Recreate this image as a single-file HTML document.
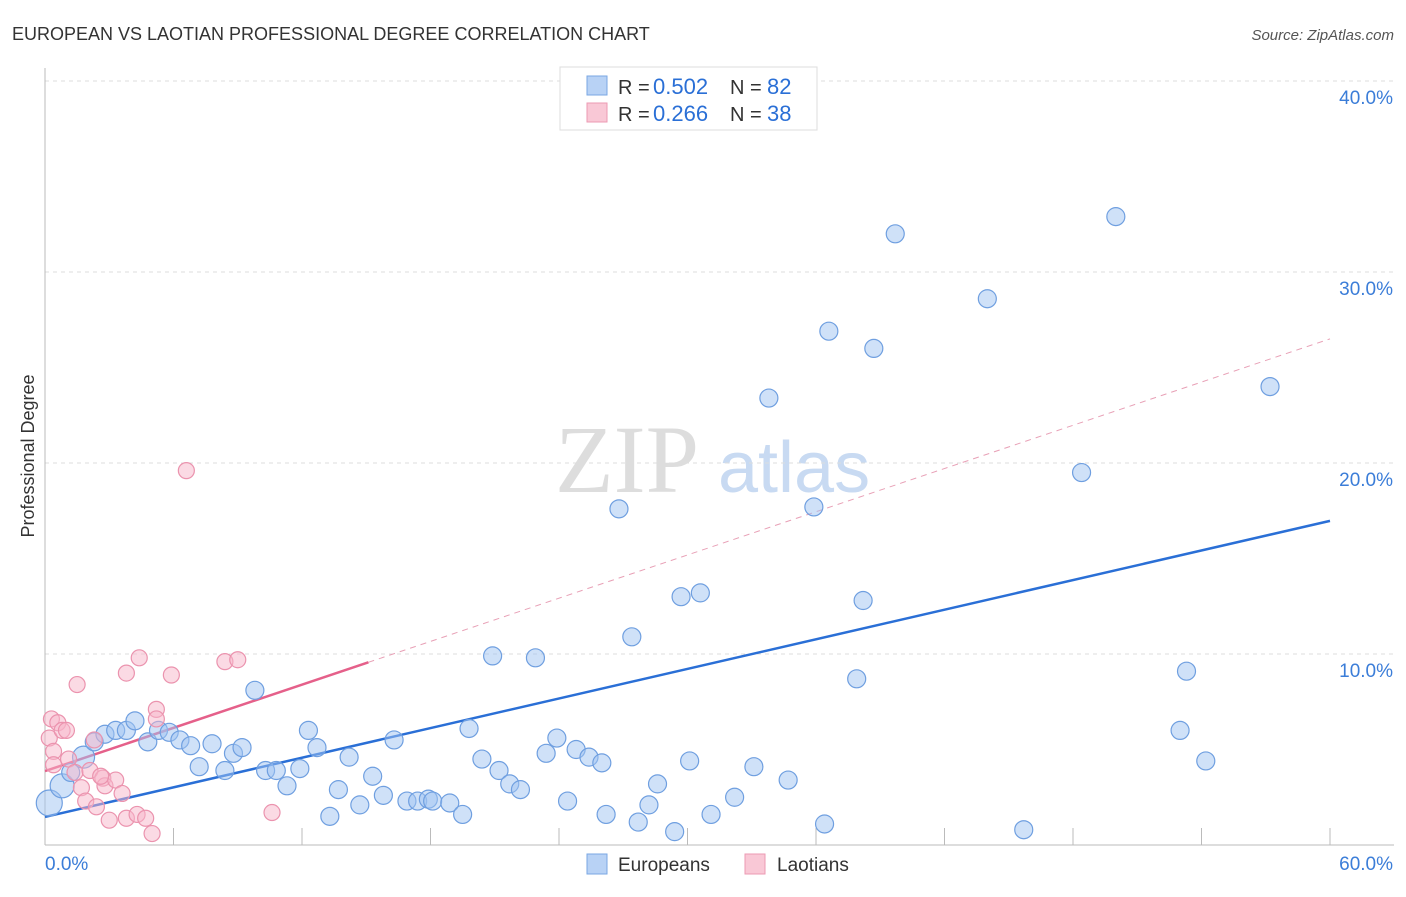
<!DOCTYPE html>
<html><head><meta charset="utf-8"><style>
body{margin:0;background:#fff;font-family:"Liberation Sans",sans-serif;}
</style></head><body>
<svg width="1406" height="892" xmlns="http://www.w3.org/2000/svg">
<text x="12" y="40" font-size="18" fill="#333">EUROPEAN VS LAOTIAN PROFESSIONAL DEGREE CORRELATION CHART</text>
<text x="1394" y="40" font-size="15" fill="#555" font-style="italic" text-anchor="end">Source: ZipAtlas.com</text>
<text x="34" y="456" font-size="18" fill="#333" transform="rotate(-90 34 456)" text-anchor="middle">Professional Degree</text>
<text x="555" y="492" font-size="96" fill="#ddd" font-family="Liberation Serif">ZIP</text>
<text x="718" y="492" font-size="72" fill="#c8daf2">atlas</text>
<g id="grid"></g><g id="axes"></g><g id="lines"></g><g id="pts"></g>
<g>
<rect x="560" y="67" width="257" height="63" fill="#fff" stroke="#ddd"/>
<rect x="587" y="76" width="20" height="19" fill="#b8d2f5" stroke="#7aa7e3"/>
<text x="618" y="94" font-size="20" fill="#333">R =</text>
<text x="653" y="94" font-size="22" fill="#2a6fd6">0.502</text>
<text x="730" y="94" font-size="20" fill="#333">N =</text>
<text x="767" y="94" font-size="22" fill="#2a6fd6">82</text>
<rect x="587" y="103" width="20" height="19" fill="#f9c8d6" stroke="#ec9ab3"/>
<text x="618" y="121" font-size="20" fill="#333">R =</text>
<text x="653" y="121" font-size="22" fill="#2a6fd6">0.266</text>
<text x="730" y="121" font-size="20" fill="#333">N =</text>
<text x="767" y="121" font-size="22" fill="#2a6fd6">38</text>
</g>
<g>
<rect x="587" y="854" width="20" height="20" fill="#b8d2f5" stroke="#7aa7e3"/>
<text x="618" y="871" font-size="19" fill="#333">Europeans</text>
<rect x="745" y="854" width="20" height="20" fill="#f9c8d6" stroke="#ec9ab3"/>
<text x="777" y="871" font-size="19" fill="#333">Laotians</text>
</g>
</svg>
<script>
const xTicks=[0,60];
const yTicks=[10,20,30,40];
const euroX=[0.2,0.8,1.2,1.8,2.3,2.8,3.3,3.8,4.2,4.8,5.3,5.8,6.3,6.8,7.2,7.8,8.4,8.8,9.2,9.8,10.3,10.8,11.3,11.9,12.3,12.7,13.3,13.7,14.2,14.7,15.3,15.8,16.3,16.9,17.4,17.9,18.1,18.9,19.5,19.8,20.4,20.9,21.2,21.7,22.2,22.9,23.4,23.9,24.4,24.8,25.4,26.0,26.2,26.8,27.4,27.7,28.2,28.6,29.4,29.7,30.1,30.6,31.1,32.2,33.1,33.8,34.7,35.9,36.4,36.6,37.9,38.2,38.7,39.7,44.0,45.7,48.4,50.0,53.0,53.3,54.2,57.2];
const euroY=[2.2,3.1,3.8,4.6,5.4,5.8,6.0,6.0,6.5,5.4,6.0,5.9,5.5,5.2,4.1,5.3,3.9,4.8,5.1,8.1,3.9,3.9,3.1,4.0,6.0,5.1,1.5,2.9,4.6,2.1,3.6,2.6,5.5,2.3,2.3,2.4,2.3,2.2,1.6,6.1,4.5,9.9,3.9,3.2,2.9,9.8,4.8,5.6,2.3,5.0,4.6,4.3,1.6,17.6,10.9,1.2,2.1,3.2,0.7,13.0,4.4,13.2,1.6,2.5,4.1,23.4,3.4,17.7,1.1,26.9,8.7,12.8,26.0,32.0,28.6,0.8,19.5,32.9,6.0,9.1,4.4,24.0];
const euroR=[13,12,9,11,9,9,9,9,9,9,9,9,9,9,9,9,9,9,9,9,9,9,9,9,9,9,9,9,9,9,9,9,9,9,9,9,9,9,9,9,9,9,9,9,9,9,9,9,9,9,9,9,9,9,9,9,9,9,9,9,9,9,9,9,9,9,9,9,9,9,9,9,9,9,9,9,9,9,9,9,9,9];
const laoX=[0.3,0.6,0.2,0.8,0.4,1.0,0.4,1.1,1.5,1.4,1.7,2.1,2.3,1.9,2.4,2.7,2.8,3.0,3.3,3.6,3.8,3.8,4.4,4.3,4.7,5.0,5.2,5.2,5.9,6.6,8.4,9.0,10.6,2.6];
const laoY=[6.6,6.4,5.6,6.0,4.9,6.0,4.2,4.5,8.4,3.8,3.0,3.9,5.5,2.3,2.0,3.5,3.1,1.3,3.4,2.7,9.0,1.4,9.8,1.6,1.4,0.6,7.1,6.6,8.9,19.6,9.6,9.7,1.7,3.6];
const euroLine=[1.47,16.97];
const laoLine=[3.87,26.5];
const laoSolidEnd=15.1;
const NS="http://www.w3.org/2000/svg";
const X=v=>45+v*(1285/60), Y=v=>845-v*19.1;
function mk(t,a,p){const e=document.createElementNS(NS,t);for(const k in a)e.setAttribute(k,a[k]);p.appendChild(e);return e;}
const grid=document.getElementById('grid'),axes=document.getElementById('axes'),lines=document.getElementById('lines'),pts=document.getElementById('pts');
yTicks.forEach(t=>{const l=mk('line',{x1:45,x2:1394,y1:Y(t),y2:Y(t),stroke:'#ddd','stroke-dasharray':'4,4'},grid);


const tx=mk('text',{x:1393,y:Y(t)+23,'font-size':19,fill:'#3b7dd8','text-anchor':'end'},axes);tx.textContent=t.toFixed(1)+'%';

});
let ax=mk('line',{x1:45,x2:45,y1:68,y2:845,stroke:'#bbb'},axes);


ax=mk('line',{x1:45,x2:1394,y1:845,y2:845,stroke:'#bbb'},axes);


for(let i=1;i<=10;i++){const t=mk('line',{x1:X(i*6),x2:X(i*6),y1:828,y2:845,stroke:'#bbb'},axes);

}
xTicks.forEach((t,i)=>{const tx=mk('text',{x:i?1393:45,y:870,'font-size':19,fill:'#3b7dd8','text-anchor':i?'end':'start'},axes);tx.textContent=t.toFixed(1)+'%';

});
euroX.forEach((v,i)=>{const c=mk('circle',{cx:X(v),cy:Y(euroY[i]),r:euroR[i],fill:'rgba(160,196,242,0.5)',stroke:'#6f9fe0','stroke-width':1.2},pts);

});
laoX.forEach((v,i)=>{const c=mk('circle',{cx:X(v),cy:Y(laoY[i]),r:8,fill:'rgba(248,182,202,0.5)',stroke:'#eb93ae','stroke-width':1.2},pts);

});
const ly=v=>laoLine[0]+(laoLine[1]-laoLine[0])*v/60;
let l=mk('line',{x1:X(laoSolidEnd),y1:Y(ly(laoSolidEnd)),x2:X(60),y2:Y(laoLine[1]),stroke:'#e8a0b6','stroke-dasharray':'6,5','stroke-width':1},lines);


l=mk('line',{x1:X(0),y1:Y(laoLine[0]),x2:X(laoSolidEnd),y2:Y(ly(laoSolidEnd)),stroke:'#e5608a','stroke-width':2.5},lines);


l=mk('line',{x1:X(0),y1:Y(euroLine[0]),x2:X(60),y2:Y(euroLine[1]),stroke:'#2a6fd6','stroke-width':2.5},lines);


</script>
</body></html>
